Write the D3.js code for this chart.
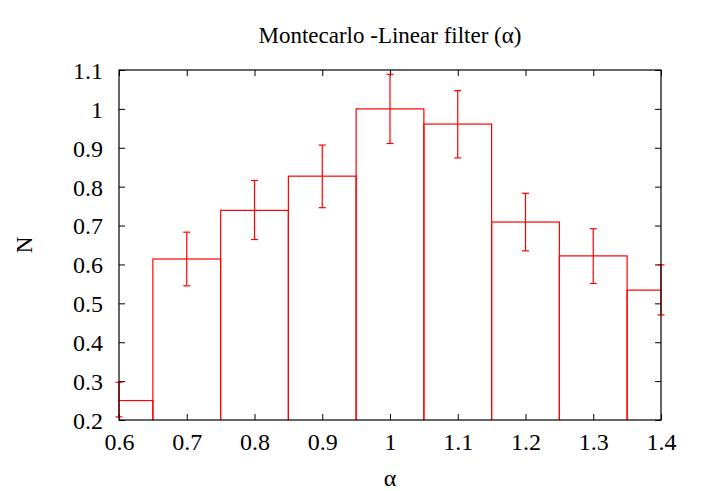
<!DOCTYPE html>
<html>
<head>
<meta charset="utf-8">
<script src="https://cdn.jsdelivr.net/npm/d3@7"></script>
<style>
  body { margin: 0; background: #fff; }
  svg text { font-family: "Liberation Serif", "Times New Roman", serif; fill: #000; }
  .tick text { font-size: 24px; }
</style>
</head>
<body>
<svg id="svg1" width="701" height="491"></svg>
<script>
// bin centres, histogram heights and error bar ends
var alphas = [0.6, 0.7, 0.8, 0.9, 1.0, 1.1, 1.2, 1.3, 1.4];
var counts = [0.25, 0.614, 0.739, 0.827, 1.0, 0.961, 0.709, 0.622, 0.534];
var errLow = [0.208, 0.545, 0.664, 0.746, 0.911, 0.874, 0.635, 0.551, 0.47];
var errHigh = [0.297, 0.683, 0.816, 0.907, 1.089, 1.047, 0.783, 0.692, 0.599];
var xTicks = [0.6, 0.7, 0.8, 0.9, 1.0, 1.1, 1.2, 1.3, 1.4];
var yTicks = [0.2, 0.3, 0.4, 0.5, 0.6, 0.7, 0.8, 0.9, 1.0, 1.1];

var svg = d3.select("#svg1"),
    margin = {top: 70, right: 40, bottom: 71, left: 119},
    width = +svg.attr("width") - margin.left - margin.right,
    height = +svg.attr("height") - margin.top - margin.bottom,
    g = svg.append("g").attr("transform", "translate(" + margin.left + "," + margin.top + ")");

var x = d3.scaleLinear().domain([0.6, 1.4]).range([0, width]);
var y = d3.scaleLinear().domain([0.2, 1.1]).range([height, 0]);

var data = alphas.map(function(a, i) {
  return {a: a, n: counts[i], lo: errLow[i], hi: errHigh[i]};
});

var fmt = function(d) { return d3.format("")(+d.toFixed(1)); };
var tickLen = 6;

// axes, ticks pointing inwards on all four sides
function styleAxis(sel) {
  sel.attr("font-size", null).attr("font-family", null);
  sel.selectAll("path").remove();
  sel.selectAll("line").attr("stroke", "#000");
}

g.append("g")
    .attr("transform", "translate(0," + height + ")")
    .call(d3.axisBottom(x).tickValues(xTicks).tickFormat(fmt).tickSizeInner(-tickLen).tickPadding(13))
    .call(styleAxis);

g.append("g")
    .call(d3.axisTop(x).tickValues(xTicks).tickFormat("").tickSizeInner(-tickLen))
    .call(styleAxis);

g.append("g")
    .call(d3.axisLeft(y).tickValues(yTicks).tickFormat(fmt).tickSizeInner(-tickLen).tickPadding(16))
    .call(styleAxis)
    .selectAll("text").attr("dy", "0.35em");

g.append("g")
    .attr("transform", "translate(" + width + ",0)")
    .call(d3.axisRight(y).tickValues(yTicks).tickFormat("").tickSizeInner(-tickLen))
    .call(styleAxis);

// histogram steps (clipped to plot area)
svg.append("clipPath").attr("id", "clip")
  .append("rect").attr("x", 0).attr("y", 0).attr("width", width).attr("height", height);

var plot = g.append("g").attr("clip-path", "url(#clip)");

plot.selectAll(".bar")
    .data(data)
  .enter().append("rect")
    .attr("class", "bar")
    .attr("x", function(d) { return x(d.a - 0.05); })
    .attr("width", function(d) { return x(d.a + 0.05) - x(d.a - 0.05); })
    .attr("y", function(d) { return y(d.n); })
    .attr("height", function(d) { return height - y(d.n) + 2; })
    .attr("fill", "none")
    .attr("stroke", "#ff0000")
    .attr("stroke-width", 1.2);

// error bars
var capW = 3.5;
var err = g.selectAll(".err")
    .data(data)
  .enter().append("g")
    .attr("class", "err")
    .attr("stroke", "#ff0000")
    .attr("stroke-width", 1.2);

err.append("line")
    .attr("x1", function(d) { return x(d.a); })
    .attr("x2", function(d) { return x(d.a); })
    .attr("y1", function(d) { return y(d.lo); })
    .attr("y2", function(d) { return y(d.hi); });

err.append("line")
    .attr("x1", function(d) { return x(d.a) - capW; })
    .attr("x2", function(d) { return x(d.a) + capW; })
    .attr("y1", function(d) { return y(d.lo); })
    .attr("y2", function(d) { return y(d.lo); });

err.append("line")
    .attr("x1", function(d) { return x(d.a) - capW; })
    .attr("x2", function(d) { return x(d.a) + capW; })
    .attr("y1", function(d) { return y(d.hi); })
    .attr("y2", function(d) { return y(d.hi); });

// frame
g.append("rect")
    .attr("x", 0).attr("y", 0)
    .attr("width", width).attr("height", height)
    .attr("fill", "none")
    .attr("stroke", "#000")
    .attr("stroke-width", 1.2);

// title and labels
svg.append("text")
    .attr("x", margin.left + width / 2)
    .attr("y", 43)
    .attr("text-anchor", "middle")
    .style("font-size", "23px")
    .text("Montecarlo -Linear filter (α)");

svg.append("text")
    .attr("x", margin.left + width / 2)
    .attr("y", 486)
    .attr("text-anchor", "middle")
    .style("font-size", "24px")
    .text("α");

svg.append("text")
    .attr("transform", "translate(32," + (margin.top + height / 2) + ") rotate(-90)")
    .attr("text-anchor", "middle")
    .style("font-size", "23px")
    .text("N");
</script>
</body>
</html>
